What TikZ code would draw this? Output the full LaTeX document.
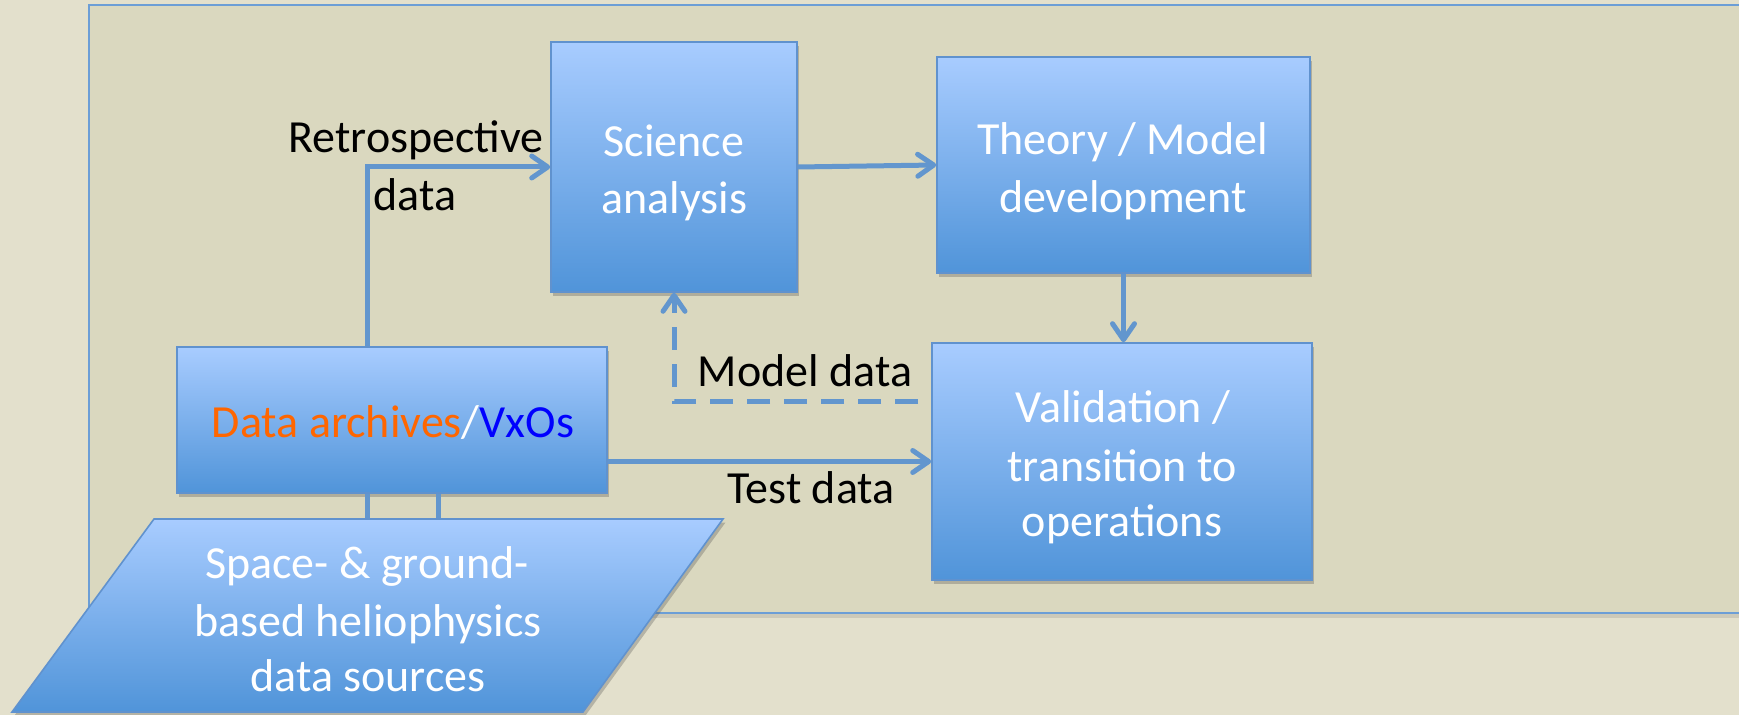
\documentclass[tikz,border=0pt]{standalone}
\usepackage{fontspec}
\setmainfont{Carlito}
\usetikzlibrary{arrows.meta,shadows,calc}

\definecolor{bgout}{RGB}{227,224,204}
\definecolor{panelfill}{RGB}{218,216,191}
\definecolor{panelline}{RGB}{108,158,214}
\definecolor{boxtop}{RGB}{168,204,255}
\definecolor{boxbot}{RGB}{80,148,217}
\definecolor{boxline}{RGB}{96,146,206}
\definecolor{conncol}{RGB}{98,150,206}
\definecolor{archorange}{RGB}{255,102,0}
\definecolor{vxoblue}{RGB}{0,0,255}

\begin{document}
\begin{tikzpicture}[x=0.5pt,y=-0.5pt,
  box/.style={draw=boxline, line width=0.8pt, top color=boxtop, bottom color=boxbot,
    inner sep=0pt,
    drop shadow={shadow xshift=1.2pt, shadow yshift=-1.8pt, opacity=0.3, fill=black!70}},
  txt/.style={font=\fontsize{23}{28}\selectfont, inner sep=0pt, anchor=base},
  wtext/.style={txt, text=white},
  ktext/.style={txt, text=black},
  conn/.style={draw=conncol, line width=2.5pt},
  arrowed/.style={-{Straight Barb[length=8pt,width=11pt,round]}},
  dashedconn/.style={conn, dash pattern=on 11.5pt off 7pt}
]
% canvas and panel
\useasboundingbox (0,0) rectangle (1739,715);
\fill[bgout] (0,0) rectangle (1739,715);
\clip (0,0) rectangle (1739,715);
\path[fill=panelfill, draw=panelline, line width=1pt,
  drop shadow={shadow xshift=0pt, shadow yshift=-2.5pt, opacity=0.18, fill=black!60}]
  (89,5) rectangle (1800,613);

% helper coordinates for the vertical links
\coordinate (retroX) at (367,0);
\coordinate (linkX) at (438,0);
\coordinate (srcTL) at (154,519);
\coordinate (srcTR) at (723,519);
\coordinate (srcBR) at (583,712);
\coordinate (srcBL) at (12,712);
\coordinate (mdstart) at (918,402);

% boxes
\node[box, minimum width=123pt, minimum height=125pt] (sci) at (674,167) {};
\node[box, minimum width=186.5pt, minimum height=108pt] (theory) at (1123.5,165) {};
\node[box, minimum width=190pt, minimum height=118.5pt] (valid) at (1122,461.5) {};
\node[box, minimum width=215pt, minimum height=73pt] (arch) at (392,420) {};

% links between archive box and data sources
\draw[conn] (arch.south -| retroX) -- (retroX |- srcTL);
\draw[conn] (arch.south -| linkX) -- (linkX |- srcTL);

% data sources parallelogram
\path[box] (srcTL) -- (srcTR) -- (srcBR) -- (srcBL) -- cycle;

% connectors
\draw[conn, arrowed] (arch.north -| retroX) |- (sci.west);
\draw[conn, arrowed] (sci.east) -- (theory.west);
\draw[conn, arrowed] (theory.south) -- (theory.south |- valid.north);
\draw[conn, arrowed] (valid.west -| arch.east) -- (valid.west);
\draw[dashedconn, arrowed] (mdstart) -| (sci.south);

% box texts
\node[wtext] (sciA) at (674,157) {Science};
\node[wtext] (sciB) at (674.5,214) {analysis};
\node[wtext] (thA) at (1122.5,155) {Theory / Model};
\node[wtext] (thB) at (1123,213) {development};
\node[wtext] (vaA) at (1123,423) {Validation /};
\node[wtext] (vaB) at (1122,482) {transition to};
\node[wtext] (vaC) at (1122,537) {operations};
\node[wtext] (arA) at (393,438) {\textcolor{archorange}{Data archives}/\textcolor{vxoblue}{VxOs}};
\node[wtext] (srA) at (367,578) {Space- \& ground-};
\node[wtext] (srB) at (368,636) {based heliophysics};
\node[wtext] (srC) at (368,691) {data sources};

% connector labels
\node[ktext] (reA) at (416,153) {Retrospective};
\node[ktext] (reB) at (415,211) {data};
\node[ktext] (mdl) at (805,387) {Model data};
\node[ktext] (tdl) at (811,503) {Test data};
\end{tikzpicture}
\end{document}
